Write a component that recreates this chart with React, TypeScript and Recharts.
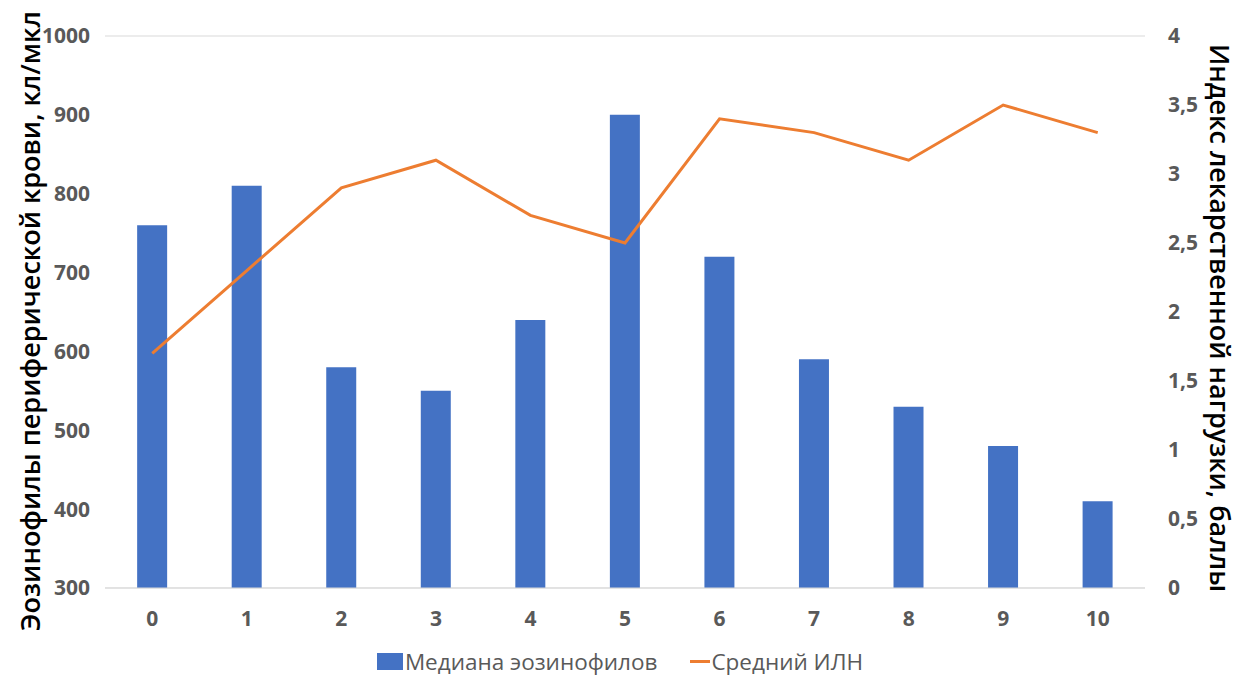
import React from 'react';
import { ComposedChart, Bar, Line, XAxis, YAxis, CartesianGrid, Legend } from 'recharts';

const categories = ['0', '1', '2', '3', '4', '5', '6', '7', '8', '9', '10'];
const eosinophils = [760, 810, 580, 550, 640, 900, 720, 590, 530, 480, 410];
const drugIndex = [1.7, 2.3, 2.9, 3.1, 2.7, 2.5, 3.4, 3.3, 3.1, 3.5, 3.3];
const leftTicks = [300, 400, 500, 600, 700, 800, 900, 1000];
const rightTicks = [0, 0.5, 1, 1.5, 2, 2.5, 3, 3.5, 4];

const data = categories.map((c, i) => ({ cat: c, eos: eosinophils[i], idx: drugIndex[i] }));

const FONT = '"Open Sans", "Liberation Sans", Arial, sans-serif';
const TICK = { fill: '#595959', fontSize: 21, fontWeight: 700, fontFamily: FONT };

const LeftTitle = () => {
  const cy = 321;
  return (
    <text x={40} y={cy} transform={`rotate(-90, 40, ${cy})`} textAnchor="middle" fill="#000" fontSize={27} fontWeight={600} fontFamily={FONT}>
      Эозинофилы периферической крови, кл/мкл
    </text>
  );
};

const RightTitle = () => {
  const cy = 318;
  return (
    <text x={1210} y={cy} transform={`rotate(90, 1210, ${cy})`} textAnchor="middle" fill="#000" fontSize={27} fontWeight={600} fontFamily={FONT}>
      Индекс лекарственной нагрузки, баллы
    </text>
  );
};

const LegendContent = () => (
  <div style={{ display: 'flex', justifyContent: 'center', alignItems: 'center', fontFamily: FONT, fontSize: 22.5, color: '#595959', gap: 33, paddingTop: 9, height: 29, lineHeight: '28px' }}>
    <div style={{ display: 'flex', alignItems: 'center' }}>
      <span style={{ display: 'inline-block', width: 26, height: 17, background: '#4472C4', marginRight: 2 }} />
      <span>Медиана эозинофилов</span>
    </div>
    <div style={{ display: 'flex', alignItems: 'center' }}>
      <span style={{ display: 'inline-block', width: 20, height: 3, background: '#ED7D31', marginRight: 1 }} />
      <span>Средний ИЛН</span>
    </div>
  </div>
);

export default function App() {
  return (
    <div style={{ position: 'absolute', left: 0, top: 0, width: 1240, height: 676, background: '#fff' }}>
      <ComposedChart width={1240} height={676} data={data} margin={{ top: 36, right: 0, bottom: 0, left: 0 }} barCategoryGap="34%">
        <CartesianGrid horizontal vertical={false} stroke="#d9d9d9" />
        <XAxis dataKey="cat" tick={TICK} tickLine={false} axisLine={{ stroke: '#d9d9d9' }} height={50} tickMargin={17} />
        <YAxis yAxisId="left" orientation="left" width={105} domain={[300, 1000]} ticks={leftTicks} tick={TICK} tickLine={false} axisLine={false} tickMargin={9} label={<LeftTitle />} />
        <YAxis yAxisId="right" orientation="right" width={95} domain={[0, 4]} ticks={rightTicks} tick={TICK} tickLine={false} axisLine={false} tickMargin={17} tickFormatter={(v: number) => String(v).replace('.', ',')} label={<RightTitle />} />
        <Legend verticalAlign="bottom" height={38} content={<LegendContent />} />
        <Bar yAxisId="left" dataKey="eos" name="Медиана эозинофилов" fill="#4472C4" isAnimationActive={false} />
        <Line yAxisId="right" dataKey="idx" name="Средний ИЛН" stroke="#ED7D31" strokeWidth={3} dot={false} type="linear" isAnimationActive={false} />
      </ComposedChart>
    </div>
  );
}
